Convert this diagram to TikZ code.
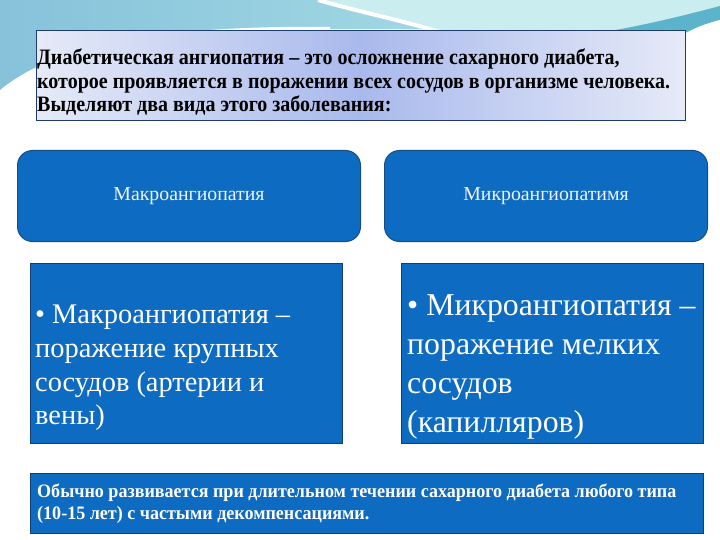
\documentclass[tikz,border=0pt]{standalone}
\usepackage{fontspec}
\setmainfont{Liberation Serif}
\newfontfamily\boldcond[FakeStretch=0.91]{Liberation Serif}
\newfontfamily\boldcondb[FakeStretch=0.95]{Liberation Serif}
\usetikzlibrary{shapes.misc}
\definecolor{bgblue}{HTML}{86C2DA}
\definecolor{bgcyan}{HTML}{B4E6EA}
\definecolor{teal1}{HTML}{5CB4CC}
\definecolor{boxblue}{HTML}{0E6BC2}
\definecolor{boxedge}{HTML}{184C84}
\definecolor{navyedge}{HTML}{123E78}
\definecolor{topedge}{HTML}{1F3C6E}
\definecolor{lavL}{HTML}{E6EAF8}
\definecolor{lavM}{HTML}{A9B9EC}
\definecolor{txtlight}{HTML}{EEF3FF}
\tikzset{
  roundbox/.style={draw=boxedge, line width=1pt, fill=boxblue, rounded corners=15pt, inner sep=0pt},
  squarebox/.style={draw=navyedge, line width=1.2pt, fill=boxblue, inner sep=0pt},
  bigtext/.style={text=white, align=left, inner sep=0pt, anchor=north west},
}
\begin{document}
\begin{tikzpicture}[x=1pt,y=-1pt]
\useasboundingbox (0,0) rectangle (720,540);
\fill[white] (0,0) rectangle (720,540);
% background top band
\shade[left color=bgblue, right color=bgcyan]
  (0,0) -- (720,0) -- (720,8) .. controls (690,16) and (660,24) .. (640,30)
  -- (330,29) .. controls (180,24) and (60,40) .. (0,90) -- cycle;
\fill[bgcyan!70!white] (318,0) .. controls (360,12) and (400,20) .. (440,30) -- (640,30)
  .. controls (660,24) and (690,16) .. (720,8) -- (720,0) -- cycle;
\draw[white, line width=4pt] (318,0) .. controls (360,12) and (400,20) .. (440,32);
\fill[teal1] (610,31) .. controls (650,24) and (690,14) .. (720,6) -- (720,20)
  .. controls (705,24) and (695,28) .. (686,33) -- cycle;
\fill[white] (686,33) .. controls (695,28) and (705,24) .. (720,20) -- (720,40) -- (686,40) -- cycle;
\draw[white, line width=2pt] (0,92) .. controls (60,42) and (180,26) .. (330,28);

% top box
\node[draw=topedge, line width=0.8pt, inner sep=0pt, minimum width=649pt, minimum height=90pt,
  anchor=north west, left color=lavL, right color=lavL, middle color=lavM] (intro) at (36,30) {};
\node[anchor=north west, inner sep=0pt, align=left,
  font=\boldcond\bfseries\fontsize{22}{23.5}\selectfont] (introtext) at (37,49)
  {Диабетическая ангиопатия – это осложнение сахарного диабета,\\
   которое проявляется в поражении всех сосудов в организме человека.\\
   Выделяют два вида этого заболевания:};

% rounded header boxes
\node[roundbox, minimum width=343pt, minimum height=91pt, anchor=north west] (macro) at (17,150) {};
\node[roundbox, minimum width=323pt, minimum height=91pt, anchor=north west] (micro) at (384,150) {};
\node[text=txtlight, font=\fontsize{19.8}{22}\selectfont] (macrolbl) at (macro.center) {Макроангиопатия};
\node[text=txtlight, font=\fontsize{19.8}{22}\selectfont] (microlbl) at (micro.center) {Микроангиопатимя};

% definition boxes
\node[squarebox, minimum width=312pt, minimum height=180pt, anchor=north west] (macrodef) at (30,263) {};
\node[squarebox, minimum width=302pt, minimum height=180pt, anchor=north west] (microdef) at (401,263) {};
\node[bigtext, font=\fontsize{28.4}{33.7}\selectfont] (macrodeftext) at (35,305)
  {• Макроангиопатия –\\поражение крупных\\сосудов (артерии и\\вены)};
\node[bigtext, font=\fontsize{31.8}{39}\selectfont] (microdeftext) at (407,294)
  {• Микроангиопатия –\\поражение мелких\\сосудов\\(капилляров)};

% bottom box
\node[squarebox, minimum width=673pt, minimum height=60pt, anchor=north west] (note) at (30,473) {};
\node[bigtext, font=\boldcondb\bfseries\fontsize{19}{22}\selectfont] (notetext) at (37,484)
  {Обычно развивается при длительном течении сахарного диабета любого типа\\
   (10-15 лет) с частыми декомпенсациями.};
\end{tikzpicture}
\end{document}
